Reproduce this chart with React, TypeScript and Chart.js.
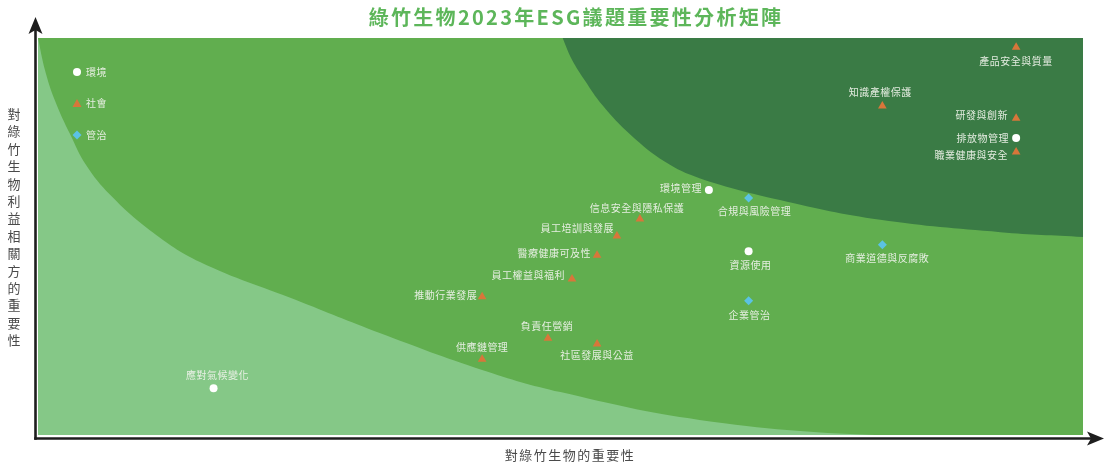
import React, { useEffect, useRef } from 'react';
import { Chart, registerables } from 'chart.js';

Chart.register(...registerables);

// ---- data ----
const titleText = '綠竹生物2023年ESG議題重要性分析矩陣';
const xAxisTitle = '對綠竹生物的重要性';
const yAxisTitle = '對綠竹生物利益相關方的重要性';
const legendNames = ['環境', '社會', '管治'];

const envNames = ['排放物管理', '環境管理', '資源使用', '應對氣候變化'];
const envX = [93.6, 64.2, 68.0, 16.8];
const envY = [74.8, 61.7, 46.3, 11.8];

const socNames = [
  '產品安全與質量', '知識產權保護', '研發與創新', '職業健康與安全',
  '信息安全與隱私保護', '員工培訓與發展', '醫療健康可及性', '員工權益與福利',
  '推動行業發展', '負責任營銷', '社區發展與公益', '供應鏈管理',
];
const socX = [93.6, 80.8, 93.6, 93.6, 57.6, 55.4, 53.5, 51.1, 42.5, 48.8, 53.5, 42.5];
const socY = [97.7, 82.9, 79.8, 71.3, 54.4, 50.1, 45.3, 39.3, 34.8, 24.4, 22.9, 19.1];

const govNames = ['合規與風險管理', '商業道德與反腐敗', '企業管治'];
const govX = [68.0, 80.8, 68.0];
const govY = [59.7, 47.9, 33.8];

// zone boundaries (data units)
const lowZoneX = [0, 0.67, 1.6, 3.1, 4.6, 6.9, 10.7, 15.5, 24.7, 32.7, 42.5, 50.0, 63.3, 80.1, 100];
const lowZoneY = [100, 91.9, 84.4, 75.6, 68.0, 60.5, 51.6, 43.6, 34.0, 25.7, 16.4, 10.8, 3.8, 0, 0];
const highZoneX = [50.2, 51.1, 52.3, 54.0, 56.7, 60.0, 63.3, 71.0, 80.6, 92.1, 100];
const highZoneY = [100, 94.5, 89.4, 83.1, 75.6, 68.8, 64.7, 59.2, 54.2, 51.1, 49.9];

// ---- styles ----
const COL_MID = '#61AE4F';
const COL_LOW = '#85C887';
const COL_HIGH = '#3A7B45';
const COL_ENV = '#FFFFFF';
const COL_SOC = '#D8763A';
const COL_GOV = '#5BC2E4';
const LABEL_COL = 'rgba(236,241,232,0.95)';
const CJK = '"Noto Sans CJK TC", "Noto Sans", sans-serif';

// label placement: [align, dx, dy]
const labelPlace: Record<string, [CanvasTextAlign, number, number]> = {
  '排放物管理': ['right', -7, 0],
  '環境管理': ['right', -7, -2],
  '資源使用': ['center', 2, 14],
  '應對氣候變化': ['center', 4, -13],
  '產品安全與質量': ['center', 0, 14],
  '知識產權保護': ['center', -2, -14],
  '研發與創新': ['right', -8, -3],
  '職業健康與安全': ['right', -8, 3],
  '信息安全與隱私保護': ['center', -3, -11],
  '員工培訓與發展': ['right', -3, -8],
  '醫療健康可及性': ['right', -6, -2],
  '員工權益與福利': ['right', -7, -4],
  '推動行業發展': ['right', -5, -2],
  '負責任營銷': ['center', -1, -12],
  '社區發展與公益': ['center', 0, 11],
  '供應鏈管理': ['center', 0, -12],
  '合規與風險管理': ['center', 6, 13],
  '商業道德與反腐敗': ['center', 5, 13],
  '企業管治': ['center', 1, 14],
};

const zip = (xs: number[], ys: number[]) => xs.map((x, i) => ({ x, y: ys[i] }));

function drawMarker(ctx: CanvasRenderingContext2D, kind: number, x: number, y: number) {
  ctx.beginPath();
  if (kind === 0) {
    ctx.fillStyle = COL_ENV;
    ctx.arc(x, y, 4, 0, Math.PI * 2);
  } else if (kind === 1) {
    ctx.fillStyle = COL_SOC;
    ctx.moveTo(x, y - 4.5);
    ctx.lineTo(x + 4.5, y + 3.5);
    ctx.lineTo(x - 4.5, y + 3.5);
    ctx.closePath();
  } else {
    ctx.fillStyle = COL_GOV;
    ctx.moveTo(x, y - 4.5);
    ctx.lineTo(x + 4.5, y);
    ctx.lineTo(x, y + 4.5);
    ctx.lineTo(x - 4.5, y);
    ctx.closePath();
  }
  ctx.fill();
}

const decorPlugin = {
  id: 'decor',
  beforeDraw(chart: any) {
    const { ctx, chartArea: ca } = chart;
    ctx.save();
    ctx.fillStyle = COL_MID;
    ctx.fillRect(ca.left, ca.top, ca.right - ca.left, ca.bottom - ca.top);
    ctx.restore();
  },
  afterDraw(chart: any) {
    const { ctx, chartArea: ca } = chart;
    ctx.save();
    // point labels
    ctx.font = `10px ${CJK}`;
    ctx.fillStyle = LABEL_COL;
    ctx.textBaseline = 'middle';
    (ctx as any).letterSpacing = '0.5px';
    const groups = [envNames, socNames, govNames];
    for (let d = 0; d < 3; d++) {
      const meta = chart.getDatasetMeta(d + 2);
      groups[d].forEach((name, i) => {
        const el = meta.data[i];
        const [align, dx, dy] = labelPlace[name] || ['center', 0, 12];
        ctx.textAlign = align;
        ctx.fillText(name, el.x + dx, el.y + dy);
      });
    }
    // legend
    legendNames.forEach((name, i) => {
      const lx = ca.left + 39;
      const ly = ca.top + 34 + i * 31.5;
      drawMarker(ctx, i, lx, ly);
      ctx.fillStyle = LABEL_COL;
      ctx.textAlign = 'left';
      ctx.fillText(name, lx + 9, ly);
    });

    // axes with arrows
    ctx.strokeStyle = '#1e1e1e';
    ctx.fillStyle = '#1e1e1e';
    ctx.lineWidth = 2.6;
    const ax = ca.left - 2.5;
    const ay = ca.bottom + 3.5;
    ctx.beginPath();
    ctx.moveTo(ax, ay + 1.3);
    ctx.lineTo(ax, 28);
    ctx.stroke();
    ctx.beginPath();
    ctx.moveTo(ax, 17);
    ctx.lineTo(ax + 7, 34);
    ctx.lineTo(ax, 30);
    ctx.lineTo(ax - 7, 34);
    ctx.closePath();
    ctx.fill();
    ctx.beginPath();
    ctx.moveTo(ax - 1.3, ay);
    ctx.lineTo(1092, ay);
    ctx.stroke();
    ctx.beginPath();
    ctx.moveTo(1104, ay);
    ctx.lineTo(1087, ay - 7);
    ctx.lineTo(1091, ay);
    ctx.lineTo(1087, ay + 7);
    ctx.closePath();
    ctx.fill();

    // title
    ctx.font = `bold 20px ${CJK}`;
    (ctx as any).letterSpacing = '2.3px';
    ctx.fillStyle = '#5DB65A';
    ctx.textAlign = 'center';
    ctx.textBaseline = 'middle';
    ctx.fillText(titleText, 576, 17);

    // x axis title
    ctx.font = `13px ${CJK}`;
    (ctx as any).letterSpacing = '1.5px';
    ctx.fillStyle = '#4a4a4a';
    ctx.fillText(xAxisTitle, 570, 455);

    // y axis title (vertical, one char per line)
    (ctx as any).letterSpacing = '0px';
    Array.from(yAxisTitle).forEach((ch, i) => {
      ctx.fillText(ch, 14, 114 + i * 17.4);
    });
    ctx.restore();
  },
};

export default function App() {
  const ref = useRef<HTMLCanvasElement>(null);
  useEffect(() => {
    document.body.style.margin = '0';
    const canvas = ref.current!;
    const chart = new Chart(canvas, {
      type: 'scatter',
      data: {
        datasets: [
          {
            label: 'low',
            data: zip(lowZoneX, lowZoneY),
            showLine: true,
            fill: 'start',
            backgroundColor: COL_LOW,
            borderWidth: 0,
            borderColor: 'rgba(0,0,0,0)',
            pointRadius: 0,
            tension: 0.4,
            order: 10,
          } as any,
          {
            label: 'high',
            data: zip(highZoneX, highZoneY),
            showLine: true,
            fill: 'end',
            backgroundColor: COL_HIGH,
            borderWidth: 0,
            borderColor: 'rgba(0,0,0,0)',
            pointRadius: 0,
            tension: 0.4,
            order: 10,
          } as any,
          {
            label: legendNames[0],
            data: zip(envX, envY),
            pointStyle: 'circle',
            pointRadius: 4,
            backgroundColor: COL_ENV,
            borderWidth: 0,
            order: 0,
          },
          {
            label: legendNames[1],
            data: zip(socX, socY),
            pointStyle: 'triangle',
            pointRadius: 5,
            backgroundColor: COL_SOC,
            borderWidth: 0,
            order: 0,
          },
          {
            label: legendNames[2],
            data: zip(govX, govY),
            pointStyle: 'rectRot',
            pointRadius: 4.5,
            backgroundColor: COL_GOV,
            borderWidth: 0,
            order: 0,
          },
        ],
      },
      options: {
        animation: false,
        responsive: false,
        devicePixelRatio: 1,
        layout: { padding: { left: 38, right: 26, top: 38, bottom: 30 } },
        scales: {
          x: { type: 'linear', min: 0, max: 100, display: false },
          y: { type: 'linear', min: 0, max: 100, display: false },
        },
        plugins: {
          legend: { display: false },
          tooltip: { enabled: false },
          title: { display: false },
        },
      },
      plugins: [decorPlugin],
    });
    return () => chart.destroy();
  }, []);
  return (
    <div style={{ width: 1109, height: 465 }}>
      <canvas ref={ref} width={1109} height={465} style={{ display: 'block' }} />
    </div>
  );
}
